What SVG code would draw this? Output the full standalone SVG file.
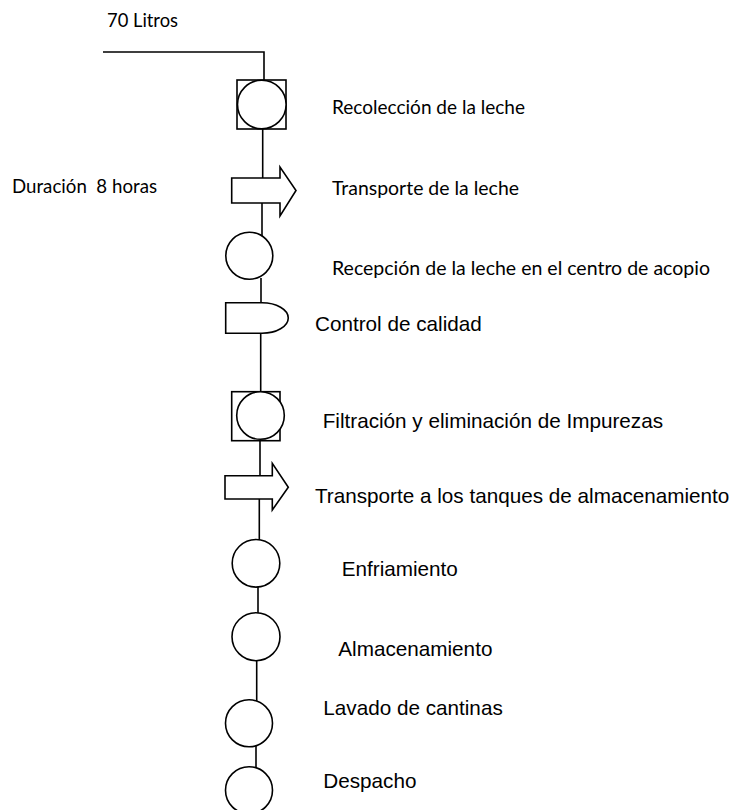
<svg xmlns="http://www.w3.org/2000/svg" width="731" height="810" viewBox="0 0 731 810">
<style>
.s{fill:#fff;stroke:#000;stroke-width:1.6}
.ln{fill:none;stroke:#000;stroke-width:1.6}
.c{font-family:Lato,"Open Sans",sans-serif;font-size:19px;fill:#000}
.a{font-family:"Liberation Sans",Arial,sans-serif;font-size:20.7px;fill:#000}
</style>
<rect width="731" height="810" fill="#fff"/>
<g id="connectors">
<path class="ln" d="M103,52 H264 V80"/>
<path class="ln" d="M262.7,129 V178"/>
<path class="ln" d="M262,203 V237"/>
<path class="ln" d="M261,278 V303"/>
<path class="ln" d="M260.7,333 V392"/>
<path class="ln" d="M260,440 V476"/>
<path class="ln" d="M259.3,499 V540"/>
<path class="ln" d="M258,586 V613"/>
<path class="ln" d="M256.7,660 V702"/>
<path class="ln" d="M256,745 V768"/>
</g>
<g id="label-70-litros"><text class="c" x="107" y="27" textLength="71" lengthAdjust="spacingAndGlyphs">70 Litros</text></g>
<g id="label-duracion"><text class="c" x="12" y="193" xml:space="preserve" textLength="145" lengthAdjust="spacingAndGlyphs">Duración  8 horas</text></g>
<g id="n1-recoleccion">
<rect class="s" x="237" y="80" width="49" height="49"/>
<circle class="s" cx="261.8" cy="104.5" r="24.3"/>
<text class="c" x="332" y="114" textLength="193" lengthAdjust="spacingAndGlyphs">Recolección de la leche</text>
</g>
<g id="n2-transporte">
<polygon class="s" points="231.7,178 280,178 280,167 296,190.5 280,216 280,203 231.7,203"/>
<text class="c" x="332" y="195" textLength="187" lengthAdjust="spacingAndGlyphs">Transporte de la leche</text>
</g>
<g id="n3-recepcion">
<circle class="s" cx="249.3" cy="255.7" r="23.5"/>
<text class="c" x="332" y="275" textLength="378" lengthAdjust="spacingAndGlyphs">Recepción de la leche en el centro de acopio</text>
</g>
<g id="n4-control">
<path class="s" d="M225.7,302.7 H262 A26.3,15.3 0 0 1 262,333.3 H225.7 Z"/>
<text class="a" x="315" y="330.7">Control de calidad</text>
</g>
<g id="n5-filtracion">
<rect class="s" x="231.7" y="391.7" width="48.3" height="49"/>
<circle class="s" cx="260.5" cy="415.5" r="23.8"/>
<text class="a" x="322.7" y="428.3">Filtración y eliminación de Impurezas</text>
</g>
<g id="n6-transporte-tanques">
<polygon class="s" points="225,475.7 272.3,475.7 272.3,463.3 288.3,487.3 272.3,510 272.3,499 225,499"/>
<text class="a" x="315" y="503.3">Transporte a los tanques de almacenamiento</text>
</g>
<g id="n7-enfriamiento">
<circle class="s" cx="256" cy="563.3" r="23.8"/>
<text class="a" x="341.7" y="575.7">Enfriamiento</text>
</g>
<g id="n8-almacenamiento">
<circle class="s" cx="256" cy="636.7" r="24"/>
<text class="a" x="338.3" y="655.7">Almacenamiento</text>
</g>
<g id="n9-lavado">
<circle class="s" cx="249" cy="723.3" r="23.5"/>
<text class="a" x="323.3" y="715">Lavado de cantinas</text>
</g>
<g id="n10-despacho">
<circle class="s" cx="249" cy="790.2" r="23.5"/>
<text class="a" x="323.3" y="788.3">Despacho</text>
</g>
</svg>
